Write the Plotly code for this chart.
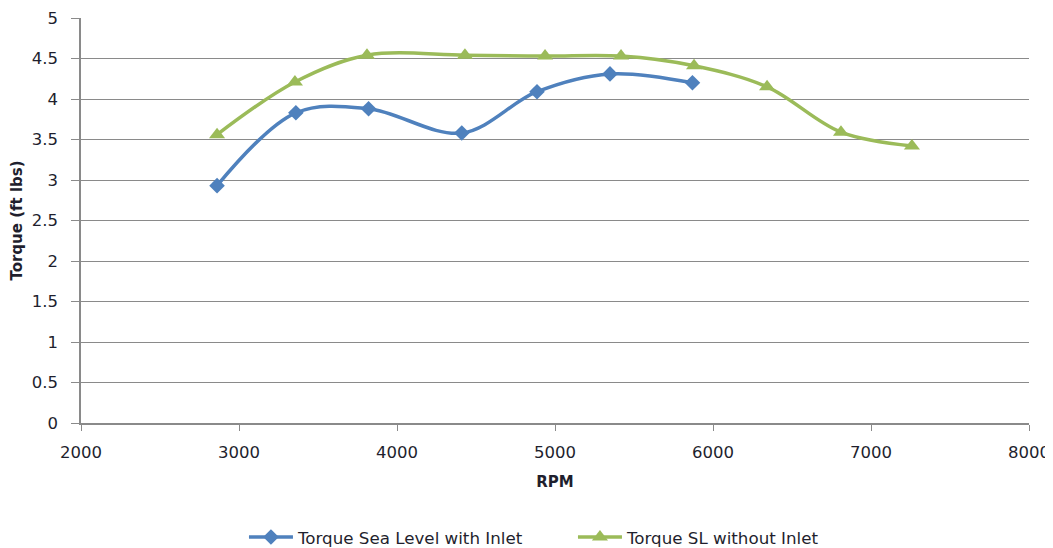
import plotly.graph_objects as go

rpm_with = [2861, 3360, 3820, 4410, 4886, 5348, 5870]
torque_with = [2.93, 3.83, 3.88, 3.58, 4.09, 4.31, 4.20]

rpm_without = [2861, 3354, 3810, 4430, 4937, 5418, 5880, 6342, 6810, 7259]
torque_without = [3.56, 4.21, 4.54, 4.54, 4.53, 4.53, 4.41, 4.15, 3.59, 3.42]

x_ticks = [2000, 3000, 4000, 5000, 6000, 7000, 8000]
y_ticks = [0, 0.5, 1, 1.5, 2, 2.5, 3, 3.5, 4, 4.5, 5]

FONT = "DejaVu Sans"
TXT = "#1f1f2e"
AX = "#8a8a8a"

fig = go.Figure()
fig.add_trace(go.Scatter(
    x=rpm_with, y=torque_with, mode="lines+markers",
    name="Torque Sea Level with Inlet",
    line=dict(color="#4F81BD", width=3.5, shape="spline", smoothing=1.0),
    marker=dict(symbol="diamond", size=12, color="#4F81BD"),
))
fig.add_trace(go.Scatter(
    x=rpm_without, y=torque_without, mode="lines+markers",
    name="Torque SL without Inlet",
    line=dict(color="#9BBB59", width=3.5, shape="spline", smoothing=1.0),
    marker=dict(symbol="triangle-up", size=14, color="#9BBB59"),
))

fig.update_layout(
    width=1045, height=540,
    margin=dict(l=73, r=24, t=10, b=125, autoexpand=False),
    paper_bgcolor="white", plot_bgcolor="white",
    font=dict(family=FONT, size=16.5, color=TXT),
    showlegend=True,
    legend=dict(orientation="h", xref="container", x=0.2258, xanchor="left",
                yref="container", y=0.02, yanchor="middle",
                font=dict(size=16.7, color=TXT), itemwidth=44,
                entrywidthmode="pixels", entrywidth=270),
)
fig.update_xaxes(
    range=[2000, 8000], tickvals=x_ticks, ticktext=[str(v) for v in x_ticks],
    showgrid=False, showline=True, linecolor=AX, linewidth=1.5,
    ticks="outside", ticklen=6, tickcolor=AX, zeroline=False, automargin=False,
    ticklabelstandoff=7,
    title=dict(text="<b>RPM</b>", font=dict(size=15), standoff=16),
)
fig.update_yaxes(
    range=[0, 5], tickvals=y_ticks, ticktext=[f"{v:g}" for v in y_ticks],
    showgrid=True, gridcolor=AX, gridwidth=1,
    showline=True, linecolor=AX, linewidth=1.5,
    ticks="outside", ticklen=8, tickcolor=AX, zeroline=False, automargin=False,
    ticklabelstandoff=10,
    title=dict(text="<b>Torque (ft lbs)</b>", font=dict(size=15), standoff=7),
)

fig.write_html("out.html")
